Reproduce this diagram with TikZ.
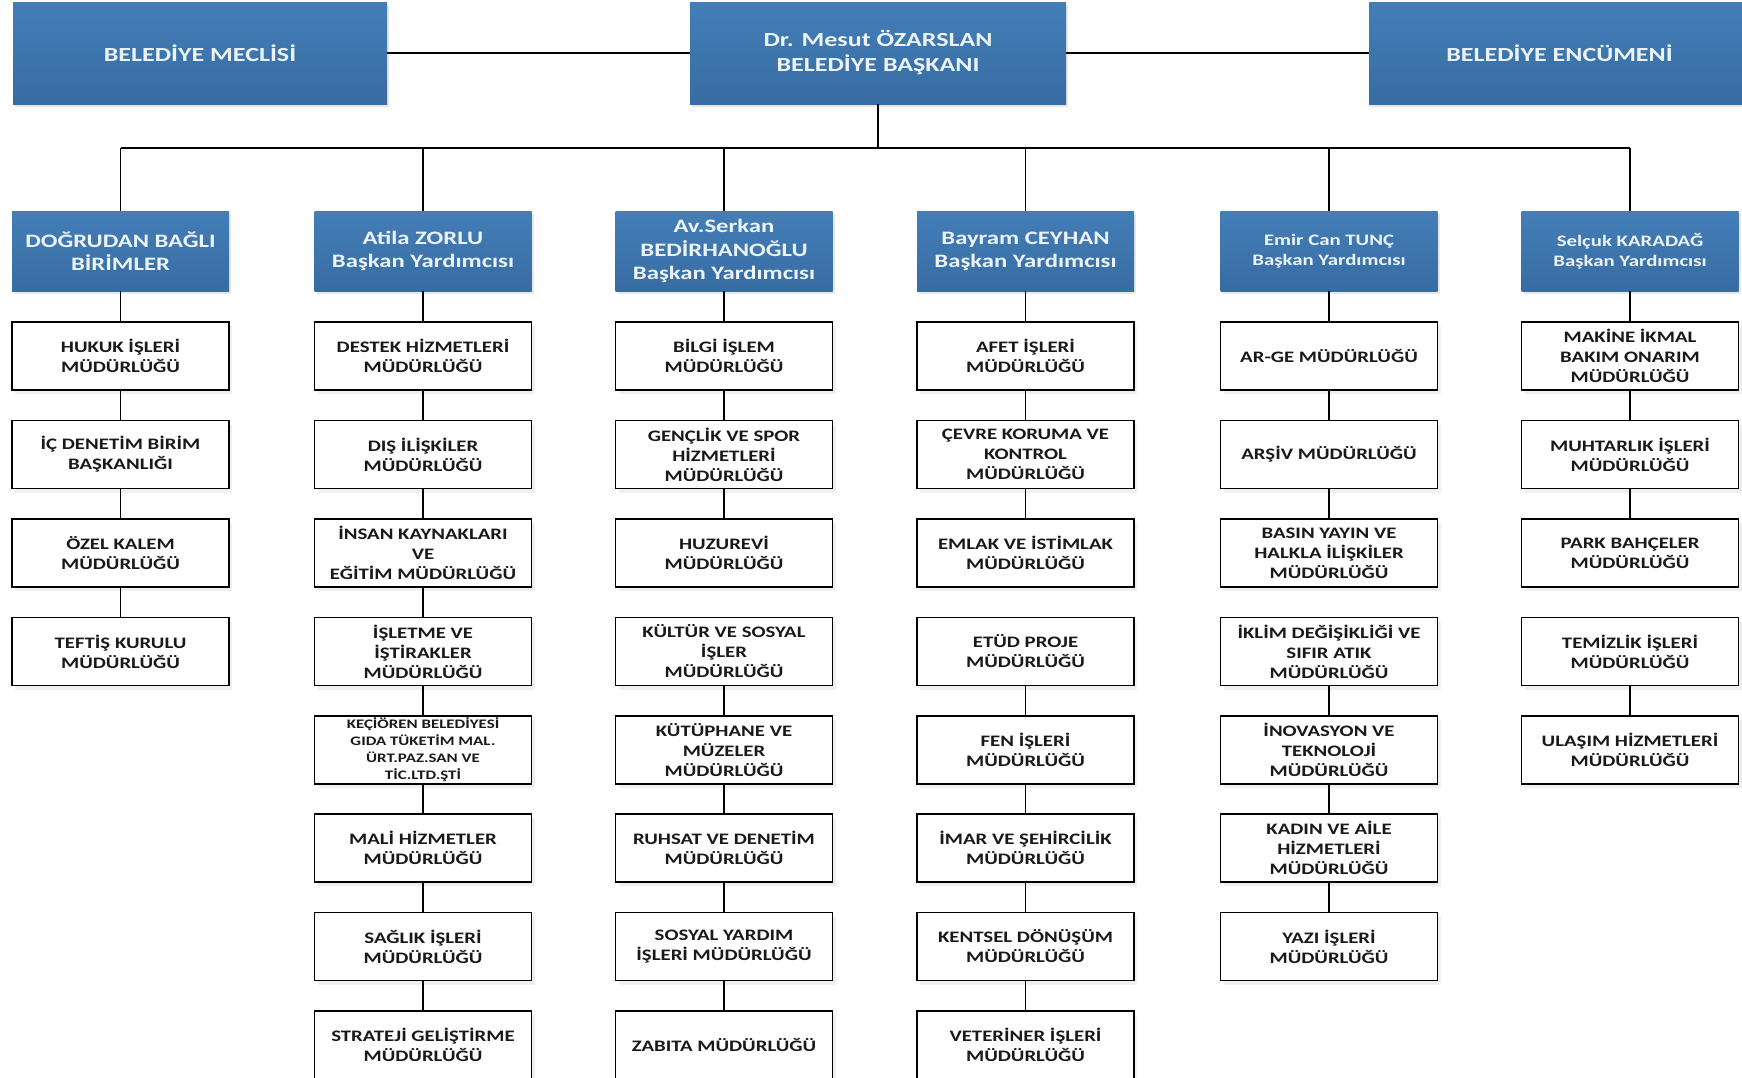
\documentclass[tikz,border=0pt]{standalone}
\usepackage{fontspec}
\usetikzlibrary{shadows}
\newfontfamily\cfont{Carlito}[FakeStretch=1.3]
\definecolor{boxblueT}{RGB}{68,126,184}
\definecolor{boxblueB}{RGB}{55,108,162}
\definecolor{bluetext}{RGB}{236,243,250}
\definecolor{unittext}{RGB}{25,25,25}
\tikzset{
  bluebox/.style={rectangle, top color=boxblueT, bottom color=boxblueB, draw=none,
    text=bluetext, align=center, inner sep=0pt,
    drop shadow={shadow xshift=2pt, shadow yshift=-3pt, opacity=0.18, fill=gray}},
  topbox/.style={bluebox, minimum height=102pt,
    font=\cfont\bfseries\fontsize{20}{25}\selectfont},
  headbox/.style={bluebox, minimum width=217pt, minimum height=80pt,
    font=\cfont\bfseries\fontsize{19}{23}\selectfont},
  headsmall/.style={headbox, font=\cfont\bfseries\fontsize{16}{20}\selectfont},
  unit/.style={rectangle, draw=black, line width=1.3pt, fill=white, text=unittext,
    align=center, inner sep=0pt, minimum width=217pt, minimum height=68pt,
    font=\cfont\bfseries\fontsize{16}{20}\selectfont,
    drop shadow={shadow xshift=3pt, shadow yshift=-4pt, opacity=0.12, fill=gray}},
  unitsmall/.style={unit, font=\cfont\bfseries\fontsize{13}{17}\selectfont},
  conn/.style={draw=black, line width=1.3pt}
}
\begin{document}
\begin{tikzpicture}[x=1pt,y=-1pt]
\useasboundingbox (0,0) rectangle (1742,1077);
\fill[white] (0,0) rectangle (1742,1077);
% top row
\node[topbox, minimum width=374pt] (mec) at (200,53) {BELEDİYE MECLİSİ};
\node[topbox, minimum width=376pt] (mayor) at (878,53) {Dr. Mesut ÖZARSLAN\\BELEDİYE BAŞKANI};
\node[topbox, minimum width=381pt] (enc) at (1559.5,53) {BELEDİYE ENCÜMENİ};
% headers
\node[headbox] (h1) at (120.5,251) {DOĞRUDAN BAĞLI\\BİRİMLER};
\node[headbox] (h2) at (423,251) {Atila ZORLU\\Başkan Yardımcısı};
\node[headbox, font=\cfont\bfseries\fontsize{19}{23.5}\selectfont] (h3) at (724,251) {Av.Serkan\\BEDİRHANOĞLU\\Başkan Yardımcısı};
\node[headbox] (h4) at (1025.5,251) {Bayram CEYHAN\\Başkan Yardımcısı};
\node[headsmall] (h5) at (1329,251) {Emir Can TUNÇ\\Başkan Yardımcısı};
\node[headsmall] (h6) at (1630,251) {Selçuk KARADAĞ\\Başkan Yardımcısı};
% column 1
\node[unit] (c1r1) at (120.5,356) {HUKUK İŞLERİ\\MÜDÜRLÜĞÜ};
\node[unit] (c1r2) at (120.5,454.5) {İÇ DENETİM BİRİM\\BAŞKANLIĞI};
\node[unit] (c1r3) at (120.5,553) {ÖZEL KALEM\\MÜDÜRLÜĞÜ};
\node[unit] (c1r4) at (120.5,651.5) {TEFTİŞ KURULU\\MÜDÜRLÜĞÜ};
% column 2
\node[unit] (c2r1) at (423,356) {DESTEK HİZMETLERİ\\MÜDÜRLÜĞÜ};
\node[unit] (c2r2) at (423,454.5) {DIŞ İLİŞKİLER\\MÜDÜRLÜĞÜ};
\node[unit] (c2r3) at (423,553) {İNSAN KAYNAKLARI\\VE\\EĞİTİM MÜDÜRLÜĞÜ};
\node[unit] (c2r4) at (423,651.5) {İŞLETME VE\\İŞTİRAKLER\\MÜDÜRLÜĞÜ};
\node[unitsmall] (c2r5) at (423,750) {KEÇİÖREN BELEDİYESİ\\GIDA TÜKETİM MAL.\\ÜRT.PAZ.SAN VE\\TİC.LTD.ŞTİ};
\node[unit] (c2r6) at (423,848) {MALİ HİZMETLER\\MÜDÜRLÜĞÜ};
\node[unit] (c2r7) at (423,946.5) {SAĞLIK İŞLERİ\\MÜDÜRLÜĞÜ};
\node[unit] (c2r8) at (423,1045) {STRATEJİ GELİŞTİRME\\MÜDÜRLÜĞÜ};
% column 3
\node[unit] (c3r1) at (724,356) {BİLGİ İŞLEM\\MÜDÜRLÜĞÜ};
\node[unit] (c3r2) at (724,454.5) {GENÇLİK VE SPOR\\HİZMETLERİ\\MÜDÜRLÜĞÜ};
\node[unit] (c3r3) at (724,553) {HUZUREVİ\\MÜDÜRLÜĞÜ};
\node[unit] (c3r4) at (724,651.5) {KÜLTÜR VE SOSYAL\\İŞLER\\MÜDÜRLÜĞÜ};
\node[unit] (c3r5) at (724,750) {KÜTÜPHANE VE\\MÜZELER\\MÜDÜRLÜĞÜ};
\node[unit] (c3r6) at (724,848) {RUHSAT VE DENETİM\\MÜDÜRLÜĞÜ};
\node[unit] (c3r7) at (724,946.5) {SOSYAL YARDIM\\İŞLERİ MÜDÜRLÜĞÜ};
\node[unit] (c3r8) at (724,1045) {ZABITA MÜDÜRLÜĞÜ};
% column 4
\node[unit] (c4r1) at (1025.5,356) {AFET İŞLERİ\\MÜDÜRLÜĞÜ};
\node[unit] (c4r2) at (1025.5,454.5) {ÇEVRE KORUMA VE\\KONTROL\\MÜDÜRLÜĞÜ};
\node[unit] (c4r3) at (1025.5,553) {EMLAK VE İSTİMLAK\\MÜDÜRLÜĞÜ};
\node[unit] (c4r4) at (1025.5,651.5) {ETÜD PROJE\\MÜDÜRLÜĞÜ};
\node[unit] (c4r5) at (1025.5,750) {FEN İŞLERİ\\MÜDÜRLÜĞÜ};
\node[unit] (c4r6) at (1025.5,848) {İMAR VE ŞEHİRCİLİK\\MÜDÜRLÜĞÜ};
\node[unit] (c4r7) at (1025.5,946.5) {KENTSEL DÖNÜŞÜM\\MÜDÜRLÜĞÜ};
\node[unit] (c4r8) at (1025.5,1045) {VETERİNER İŞLERİ\\MÜDÜRLÜĞÜ};
% column 5
\node[unit] (c5r1) at (1329,356) {AR-GE MÜDÜRLÜĞÜ};
\node[unit] (c5r2) at (1329,454.5) {ARŞİV MÜDÜRLÜĞÜ};
\node[unit] (c5r3) at (1329,553) {BASIN YAYIN VE\\HALKLA İLİŞKİLER\\MÜDÜRLÜĞÜ};
\node[unit] (c5r4) at (1329,651.5) {İKLİM DEĞİŞİKLİĞİ VE\\SIFIR ATIK\\MÜDÜRLÜĞÜ};
\node[unit] (c5r5) at (1329,750) {İNOVASYON VE\\TEKNOLOJİ\\MÜDÜRLÜĞÜ};
\node[unit] (c5r6) at (1329,848) {KADIN VE AİLE\\HİZMETLERİ\\MÜDÜRLÜĞÜ};
\node[unit] (c5r7) at (1329,946.5) {YAZI İŞLERİ\\MÜDÜRLÜĞÜ};
% column 6
\node[unit] (c6r1) at (1630,356) {MAKİNE İKMAL\\BAKIM ONARIM\\MÜDÜRLÜĞÜ};
\node[unit] (c6r2) at (1630,454.5) {MUHTARLIK İŞLERİ\\MÜDÜRLÜĞÜ};
\node[unit] (c6r3) at (1630,553) {PARK BAHÇELER\\MÜDÜRLÜĞÜ};
\node[unit] (c6r4) at (1630,651.5) {TEMİZLİK İŞLERİ\\MÜDÜRLÜĞÜ};
\node[unit] (c6r5) at (1630,750) {ULAŞIM HİZMETLERİ\\MÜDÜRLÜĞÜ};
% connectors
\draw[conn] (mec.east) -- (mayor.west);
\draw[conn] (mayor.east) -- (enc.west);
\coordinate (busL) at (h1.north |- 0,148);
\coordinate (busR) at (h6.north |- 0,148);
\draw[conn] (mayor.south) -- (mayor.south |- busL);
\draw[conn] (busL) -- (busR);
\foreach \c in {1,...,6} {
  \draw[conn] (h\c.north |- busL) -- (h\c.north);
  \draw[conn] (h\c.south) -- (c\c r1.north);
}
\foreach \c/\a/\b in {1/1/2,1/2/3,1/3/4,
  2/1/2,2/2/3,2/3/4,2/4/5,2/5/6,2/6/7,2/7/8,
  3/1/2,3/2/3,3/4/5,3/5/6,3/6/7,3/7/8,
  4/1/2,4/2/3,4/4/5,4/5/6,4/6/7,4/7/8,
  5/1/2,5/2/3,5/4/5,5/5/6,5/6/7,
  6/1/2,6/2/3,6/4/5} {
  \draw[conn] (c\c r\a.south) -- (c\c r\b.north);
}
\end{tikzpicture}
\end{document}
